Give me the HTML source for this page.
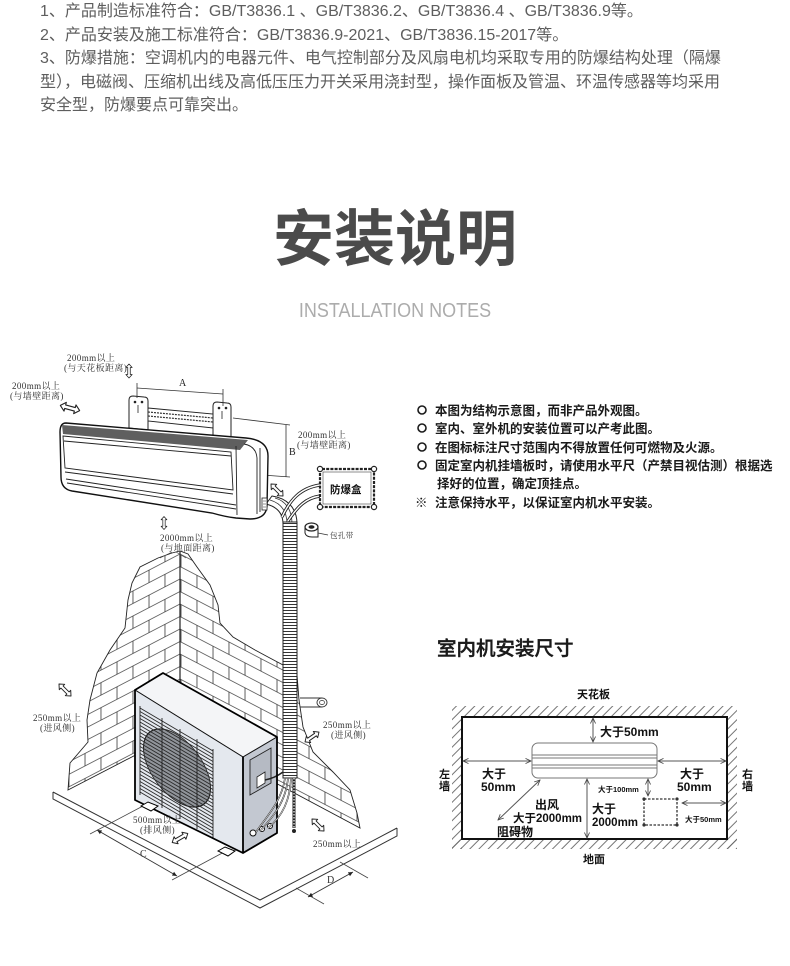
<!DOCTYPE html>
<html><head><meta charset="utf-8"><title>安装说明</title>
<style>
html,body{margin:0;padding:0;background:#fff}
body{width:790px;height:966px;position:relative;overflow:hidden}
.t{position:absolute;left:40px;top:0;font-family:"Liberation Sans","Noto Sans CJK SC",sans-serif;font-size:16px;line-height:23.5px;color:#5e5e5e;white-space:nowrap}
.h{position:absolute;left:0;top:209px;width:790px;text-align:center;font-family:"Liberation Sans","Noto Sans CJK SC",sans-serif;font-size:61px;line-height:61px;font-weight:bold;color:#4b4b4b}
.s{position:absolute;left:0;top:301px;width:790px;text-align:center;font-family:"Liberation Sans",sans-serif;font-size:20px;line-height:20px;color:#acacac;transform:scaleX(0.9)}
svg{position:absolute;left:0;top:0}
</style></head><body>
<div class="t">1、产品制造标准符合：GB/T3836.1 、GB/T3836.2、GB/T3836.4 、GB/T3836.9等。<br>2、产品安装及施工标准符合：GB/T3836.9-2021、GB/T3836.15-2017等。<br>3、防爆措施：空调机内的电器元件、电气控制部分及风扇电机均采取专用的防爆结构处理（隔爆<br>型），电磁阀、压缩机出线及高低压压力开关采用浇封型，操作面板及管温、环温传感器等均采用<br>安全型，防爆要点可靠突出。</div>
<div class="h">安装说明</div>
<div class="s">INSTALLATION NOTES</div>

<svg width="790" height="966" viewBox="0 0 790 966" xmlns="http://www.w3.org/2000/svg">
<defs>
  <pattern id="brL" patternUnits="userSpaceOnUse" width="32" height="25" patternTransform="translate(180,553) skewY(-27.5)">
    <path d="M0,1H32M0,13.5H32M1,1V13.5M17,13.5V25M17,0V1" stroke="#333" stroke-width="0.8" fill="none"/>
  </pattern>
  <pattern id="brR" patternUnits="userSpaceOnUse" width="32" height="25" patternTransform="translate(180,553) skewY(27.5)">
    <path d="M0,1H32M0,13.5H32M1,1V13.5M17,13.5V25M17,0V1" stroke="#333" stroke-width="0.8" fill="none"/>
  </pattern>
  <pattern id="rib" patternUnits="userSpaceOnUse" width="20" height="3">
    <path d="M0,1.5H20" stroke="#333" stroke-width="0.9"/>
  </pattern>
  <pattern id="hat" patternUnits="userSpaceOnUse" width="6.5" height="6.5" patternTransform="rotate(45)">
    <path d="M3,0V6.5" stroke="#666" stroke-width="0.9"/>
  </pattern>
  <clipPath id="wallc">
    <polygon points="68,790 70,763 88,742 87,720 90,700 97,673 110,650 125,628 128,600 132,583 140,567 158,558 172,553 180,551 188,554 197,567 210,585 218,605 220,623 233,637 255,650 268,657 283,665 297,675 299,700 303,727 313,752 333,772 350,790 357,813 360,828 180,732"/>
  </clipPath>
  <clipPath id="frontc">
    <polygon points="135,690 243,757 243,853 135,800"/>
  </clipPath>
  <marker id="ah" viewBox="0 0 8 8" refX="7.5" refY="4" markerWidth="6" markerHeight="6" markerUnits="userSpaceOnUse" orient="auto-start-reverse">
    <path d="M0,0.5 L7.5,4 L0,7.5" fill="none" stroke="#444" stroke-width="1.1"/>
  </marker>
  <marker id="ak" viewBox="0 0 8 8" refX="7.5" refY="4" markerWidth="5" markerHeight="5" markerUnits="userSpaceOnUse" orient="auto-start-reverse">
    <path d="M0,0.5 L7.5,4 L0,7.5 Z" fill="#222"/>
  </marker>
  <g id="da">
    <path d="M-10,0 L-5,-4.5 L-5,-1.8 L5,-1.8 L5,-4.5 L10,0 L5,4.5 L5,1.8 L-5,1.8 L-5,4.5 Z" fill="#fff" stroke="#222" stroke-width="1.1" stroke-linejoin="round"/>
  </g>
</defs>

<!-- brick walls -->
<g clip-path="url(#wallc)">
  <rect x="0" y="540" width="180" height="320" fill="url(#brL)"/>
  <rect x="180" y="540" width="220" height="320" fill="url(#brR)"/>
</g>
<polygon points="68,790 70,763 88,742 87,720 90,700 97,673 110,650 125,628 128,600 132,583 140,567 158,558 172,553 180,551 188,554 197,567 210,585 218,605 220,623 233,637 255,650 268,657 283,665 297,675 299,700 303,727 313,752 333,772 350,790 357,813 360,828 180,732" fill="none" stroke="#222" stroke-width="0.9"/>
<line x1="180" y1="551" x2="180" y2="735" stroke="#222" stroke-width="1.2"/>
<path d="M172,552 L160,558 M176,552 L186,558" stroke="#444" stroke-width="0.6" fill="none"/>

<!-- floor -->
<path d="M53,792 L260,900 L397,828 M53,792 L53,799 L260,908 L397,836 L397,828" fill="none" stroke="#333" stroke-width="1"/>
<path d="M143,806 L90,834 M226,851 L172,880" stroke="#444" stroke-width="0.8" fill="none"/>
<line x1="97" y1="830" x2="177" y2="876" stroke="#333" stroke-width="0.9" marker-start="url(#ak)" marker-end="url(#ak)"/>
<text x="140" y="857" font-family="'Liberation Serif',serif" font-size="10" fill="#333">C</text>
<path d="M296,888 L324,904 M340,862 L368,878" stroke="#444" stroke-width="0.8" fill="none"/>
<line x1="308" y1="897" x2="353" y2="872" stroke="#333" stroke-width="0.9" marker-start="url(#ak)" marker-end="url(#ak)"/>
<text x="327" y="883" font-family="'Liberation Serif',serif" font-size="10" fill="#333">D</text>

<!-- wall sleeve -->
<path d="M300,698 L322,698 M300,707 L322,707" stroke="#333" stroke-width="0.9"/>
<ellipse cx="322" cy="702.5" rx="5" ry="4.5" fill="#fff" stroke="#333" stroke-width="0.9"/>
<ellipse cx="322" cy="702.5" rx="2.5" ry="2" fill="none" stroke="#333" stroke-width="0.7"/>

<!-- outdoor unit -->
<polygon points="135,690 163,673 277,737 243,757" fill="#f4f5f7" stroke="#111" stroke-width="1"/>
<polygon points="135,690 243,757 243,853 135,800" fill="#e4e8ee" stroke="#111" stroke-width="1"/>
<polygon points="243,757 277,737 277,833 243,853" fill="#c3c8d1" stroke="#111" stroke-width="1"/>
<g clip-path="url(#frontc)">
  <g transform="translate(177,768) skewY(31)">
    <circle r="33.5" fill="#4a4e55" fill-opacity="0.55" stroke="#222" stroke-width="1"/>
  </g>
  <path d="M140,708l73,43M140,711.5l73,43M140,715l73,43M140,718.5l73,43M140,722l73,43M140,725.5l73,43M140,729l73,43M140,732.5l73,43M140,736l73,43M140,739.5l73,43M140,743l73,43M140,746.5l73,43M140,750l73,43M140,753.5l73,43M140,757l73,43M140,760.5l73,43M140,764l73,43M140,767.5l73,43M140,771l73,43M140,774.5l73,43M140,778l73,43M140,781.5l73,43M140,785l73,43M140,788.5l73,43M140,792l73,43" stroke="#2a2a2a" stroke-width="0.9" fill="none"/>
  <path d="M140,706 L140,795 M213,749 L213,838 M162,718 L162,808 M180,729 L180,819 M197,739 L197,829" stroke="#222" stroke-width="0.9" fill="none"/>
</g>
<polygon points="250,760 271,748 271,783 250,795" fill="#b5bac3" stroke="#222" stroke-width="0.9"/>
<polygon points="257,777 265,772 265,783 257,788" fill="#fff" stroke="#222" stroke-width="0.8"/>
<path d="M265,780 Q275,778 283,772" stroke="#222" stroke-width="1.5" fill="none"/>
<path d="M135,690 L163,673 L277,737 L277,833 L243,853 L135,800 Z M243,757 L243,853" fill="none" stroke="#000" stroke-width="1.8" stroke-linejoin="round"/>
<polygon points="141,806 148,802 158,806 151,811" fill="#fff" stroke="#000" stroke-width="1"/>
<polygon points="218,851 225,847 235,851 228,856" fill="#fff" stroke="#000" stroke-width="1"/>
<circle cx="253" cy="833" r="3" fill="#fff" stroke="#111" stroke-width="1"/>
<circle cx="262" cy="829" r="2.5" fill="#fff" stroke="#111" stroke-width="1"/>
<circle cx="270" cy="826" r="2.5" fill="#fff" stroke="#111" stroke-width="1"/>

<!-- pipe -->
<path d="M266,504 C278,507 283,514 283,524 L297,524 C297,507 286,498 272,496 Z" fill="#fff" stroke="#222" stroke-width="1"/>
<path d="M270,500 C280,503 287,510 287,524 M275,498 C286,501 292,510 292,524" stroke="#333" stroke-width="0.8" fill="none"/>
<rect x="283" y="522" width="14" height="256" fill="#fff"/>
<rect x="283" y="522" width="14" height="256" fill="url(#rib)" stroke="#222" stroke-width="1"/>
<path d="M285,778 C282,800 268,815 256,832 M288,778 C286,802 272,818 261,830 M291,778 C290,805 278,820 268,828" stroke="#222" stroke-width="1.6" fill="none"/>
<path d="M285,778 C282,800 268,815 256,832 M288,778 C286,802 272,818 261,830 M291,778 C290,805 278,820 268,828" stroke="#fff" stroke-width="0.6" fill="none"/>
<path d="M294,778 L294,828" stroke="#222" stroke-width="3"/>
<path d="M294,778 L294,828" stroke="#fff" stroke-width="1.2" stroke-dasharray="1.5,1.5"/>
<circle cx="294" cy="831" r="2" fill="#222"/>

<!-- cables to box -->
<path d="M282,517 C290,500 300,488 320,485 M288,521 C298,506 306,498 320,496" stroke="#222" stroke-width="3.2" fill="none"/>
<path d="M282,517 C290,500 300,488 320,485 M288,521 C298,506 306,498 320,496" stroke="#fff" stroke-width="1.4" fill="none"/>
<rect x="320" y="469" width="54" height="38" rx="2" fill="#fff" stroke="#222" stroke-width="2.2" stroke-dasharray="3,1.2"/>
<rect x="323" y="472" width="48" height="32" fill="none" stroke="#444" stroke-width="0.6"/>
<circle cx="320" cy="469" r="2.6" fill="#fff" stroke="#222" stroke-width="1.2"/>
<circle cx="374" cy="469" r="2.6" fill="#fff" stroke="#222" stroke-width="1.2"/>
<circle cx="320" cy="507" r="2.6" fill="#fff" stroke="#222" stroke-width="1.2"/>
<circle cx="374" cy="507" r="2.6" fill="#fff" stroke="#222" stroke-width="1.2"/>
<text x="330" y="493" font-family="'Liberation Sans','Noto Sans CJK SC',sans-serif" font-size="10.5" font-weight="bold" fill="#111">防爆盒</text>
<path d="M305,527 L305,533 Q306,537 312,537 L318,537 L318,527" fill="#fff" stroke="#222" stroke-width="1"/>
<ellipse cx="311.5" cy="527" rx="6.5" ry="4" fill="#fff" stroke="#222" stroke-width="1.2"/>
<ellipse cx="311.5" cy="527" rx="3" ry="1.8" fill="#222"/>
<line x1="318" y1="533" x2="328" y2="535" stroke="#333" stroke-width="0.8"/>

<!-- indoor unit brackets -->
<path d="M129,400 Q129,396 133,396 L144,397 Q148,397 148,401 L148,430 L129,428 Z" fill="#fff" stroke="#222" stroke-width="1"/>
<path d="M213,406 Q213,402 217,402 L227,403 Q231,403 231,407 L231,438 L213,436 Z" fill="#fff" stroke="#222" stroke-width="1"/>
<circle cx="135" cy="402" r="1.3" fill="#222"/><circle cx="142" cy="402" r="1.3" fill="#222"/><path d="M138,405 L138,413" stroke="#222" stroke-width="0.8"/>
<circle cx="219" cy="408" r="1.3" fill="#222"/><circle cx="226" cy="408" r="1.3" fill="#222"/><path d="M222,411 L222,419" stroke="#222" stroke-width="0.8"/>
<polygon points="148,408 213,414 213,428 148,421" fill="#fff" stroke="#222" stroke-width="0.9"/>
<path d="M148,412 L213,418 M148,416 L213,422" stroke="#333" stroke-width="1.2" stroke-dasharray="2,1" fill="none"/>
<path d="M137,383 L137,398 M223,389 L223,406" stroke="#333" stroke-width="0.8"/>
<line x1="137" y1="388" x2="223" y2="394" stroke="#333" stroke-width="0.8"/>
<text x="179" y="386" font-family="'Liberation Serif',serif" font-size="10" fill="#222">A</text>
<path d="M233,418 L290,425 M262,475 L290,477 M286,425 L286,477" stroke="#333" stroke-width="0.8" fill="none"/>
<text x="289" y="455" font-family="'Liberation Serif',serif" font-size="10" fill="#222">B</text>

<!-- indoor unit body -->
<path d="M66,423 L246,438 Q268,440 268,456 L267,506 Q266,519 250,519 L236,518 Q226,517 212,513 L72,491 Q61,489 61,477 L60,432 Q60,423 66,423 Z" fill="#fff" stroke="#111" stroke-width="1.4"/>
<polygon points="62,425 248,440 240,450 63,434" fill="#5f5f5f"/>
<path d="M63,436 L231,452 L233,490 L65,468 Z" fill="none" stroke="#222" stroke-width="0.9"/>
<path d="M64,441 L231,456 M65,472 L233,494 M66,479 L236,505 M67,483 L236,509" stroke="#222" stroke-width="0.9" fill="none"/>
<path d="M236,446 L237,515 M244,444 Q256,446 257,458 L257,514 M260,448 L260,512" stroke="#222" stroke-width="0.9" fill="none"/>
<rect x="262" y="498" width="5" height="12" fill="#fff" stroke="#222" stroke-width="0.8"/>
<path d="M263,501 h3 M263,504 h3 M263,507 h3" stroke="#222" stroke-width="0.6"/>

<!-- double arrows -->
<use href="#da" transform="translate(129,371) rotate(90) scale(0.7)"/>
<use href="#da" transform="translate(70,408) rotate(15) scale(1)"/>
<use href="#da" transform="translate(277,490) rotate(45) scale(0.85)"/>
<use href="#da" transform="translate(164,523) rotate(90) scale(0.65)"/>
<use href="#da" transform="translate(65,690) rotate(45) scale(0.85)"/>
<use href="#da" transform="translate(312,737) rotate(-35) scale(0.85)"/>
<use href="#da" transform="translate(180,838) rotate(-30) scale(0.9)"/>
<use href="#da" transform="translate(318,825) rotate(45) scale(0.85)"/>

<!-- labels -->
<g font-family="'Liberation Serif','Noto Serif CJK SC',serif" font-size="9" fill="#333" letter-spacing="0.4">
  <text x="67" y="361">200mm以上</text>
  <text x="64" y="371">(与天花板距离)</text>
  <text x="12" y="389">200mm以上</text>
  <text x="10" y="399">(与墙壁距离)</text>
  <text x="298" y="438">200mm以上</text>
  <text x="297" y="448">(与墙壁距离)</text>
  <text x="160" y="541">2000mm以上</text>
  <text x="161" y="551">(与地面距离)</text>
  <text x="33" y="721">250mm以上</text>
  <text x="40" y="731">(进风侧)</text>
  <text x="323" y="728">250mm以上</text>
  <text x="331" y="738">(进风侧)</text>
  <text x="133" y="823">500mm以上</text>
  <text x="140" y="833">(排风侧)</text>
  <text x="313" y="847">250mm以上</text>
  <text x="330" y="538" font-size="7.5">包孔带</text>
</g>

<!-- notes -->
<g fill="none" stroke="#1a1a1a" stroke-width="1.6">
  <circle cx="422" cy="410" r="4"/>
  <circle cx="422" cy="428" r="4"/>
  <circle cx="422" cy="447" r="4"/>
  <circle cx="422" cy="465" r="4"/>
</g>
<g font-family="'Liberation Sans','Noto Sans CJK SC',sans-serif" font-size="12.5" font-weight="bold" fill="#1a1a1a">
  <text x="435" y="414.8">本图为结构示意图，而非产品外观图。</text>
  <text x="435" y="432.8">室内、室外机的安装位置可以产考此图。</text>
  <text x="435" y="451.8">在图标标注尺寸范围内不得放置任何可燃物及火源。</text>
  <text x="435" y="469.8">固定室内机挂墙板时，请使用水平尺（产禁目视估测）根据选</text>
  <text x="437" y="487.8">择好的位置，确定顶挂点。</text>
  <text x="415" y="506.8">※</text><text x="435" y="506.8">注意保持水平，以保证室内机水平安装。</text>
</g>

<!-- installation dimensions -->
<text x="437" y="655" font-family="'Liberation Sans','Noto Sans CJK SC',sans-serif" font-size="19.5" font-weight="500" fill="#1a1a1a" stroke="#1a1a1a" stroke-width="0.4">室内机安装尺寸</text>

<rect x="452" y="706" width="285" height="11" fill="url(#hat)"/>
<rect x="452" y="717" width="10" height="132" fill="url(#hat)"/>
<rect x="727" y="717" width="10" height="132" fill="url(#hat)"/>
<rect x="452" y="839" width="285" height="10" fill="url(#hat)"/>
<rect x="462" y="717" width="265" height="122" fill="#fff" stroke="#111" stroke-width="2"/>

<rect x="532" y="743" width="125" height="35" rx="6" fill="#fff" stroke="#777" stroke-width="1"/>
<path d="M532,755 H657 M532,758 H657 M532,765 H657 M532,768 H657" stroke="#777" stroke-width="0.9"/>

<g stroke="#555" stroke-width="1" fill="none">
  <line x1="593" y1="718" x2="593" y2="742" marker-start="url(#ah)" marker-end="url(#ah)"/>
  <line x1="463" y1="761" x2="531" y2="761" marker-start="url(#ah)" marker-end="url(#ah)"/>
  <line x1="658" y1="761" x2="726" y2="761" marker-start="url(#ah)" marker-end="url(#ah)"/>
  <line x1="587" y1="779" x2="587" y2="838" marker-start="url(#ah)" marker-end="url(#ah)"/>
  <line x1="540" y1="780" x2="498" y2="820" marker-start="url(#ah)" marker-end="url(#ah)"/>
  <line x1="648" y1="779" x2="648" y2="796" marker-start="url(#ah)" marker-end="url(#ah)"/>
  <line x1="682" y1="803" x2="726" y2="803" marker-start="url(#ah)" marker-end="url(#ah)"/>
</g>
<rect x="644" y="799" width="33" height="26" fill="#fff" stroke="#333" stroke-width="1.3" stroke-dasharray="2.5,1.5"/>
<circle cx="644" cy="799" r="1.6" fill="#333"/><circle cx="677" cy="799" r="1.6" fill="#333"/>
<circle cx="644" cy="825" r="1.6" fill="#333"/><circle cx="677" cy="825" r="1.6" fill="#333"/>

<g font-family="'Liberation Sans','Noto Sans CJK SC',sans-serif" font-weight="bold" fill="#111">
  <text x="577" y="698" font-size="11">天花板</text>
  <text x="600" y="736" font-size="12">大于50mm</text>
  <text x="482" y="778" font-size="12">大于</text>
  <text x="481" y="791" font-size="12">50mm</text>
  <text x="680" y="778" font-size="12">大于</text>
  <text x="677" y="791" font-size="12">50mm</text>
  <text x="598" y="792" font-size="7.5">大于100mm</text>
  <text x="535" y="809" font-size="12">出风</text>
  <text x="513" y="822" font-size="11.5">大于2000mm</text>
  <text x="497" y="836" font-size="12">阻碍物</text>
  <text x="592" y="813" font-size="12">大于</text>
  <text x="592" y="826" font-size="11.5">2000mm</text>
  <text x="685" y="822" font-size="7.5">大于50mm</text>
  <text x="439" y="778" font-size="11">左</text>
  <text x="439" y="790" font-size="11">墙</text>
  <text x="742" y="778" font-size="11">右</text>
  <text x="742" y="790" font-size="11">墙</text>
  <text x="583" y="863" font-size="11">地面</text>
</g>
</svg>
</body></html>
